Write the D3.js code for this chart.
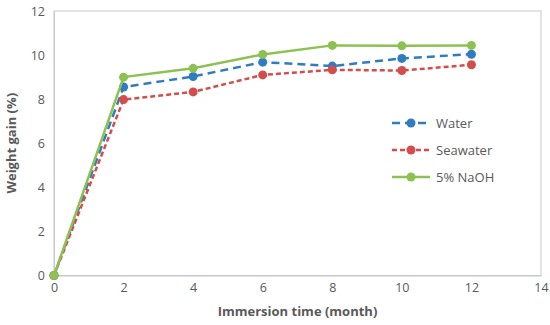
<!DOCTYPE html>
<html><head><meta charset="utf-8">
<script src="https://cdn.jsdelivr.net/npm/d3@7"></script>
<style>body{margin:0;background:#fff}svg{display:block}text{font-family:"Open Sans",Carlito,Calibri,sans-serif}</style>
</head><body><svg id="c" width="550" height="325"></svg>
<script>
const months = [0, 2, 4, 6, 8, 10, 12];
const water = [0, 8.55, 9.03, 9.68, 9.5, 9.85, 10.04];
const seawater = [0, 7.98, 8.33, 9.1, 9.33, 9.3, 9.56];
const naoh = [0, 9.0, 9.4, 10.03, 10.44, 10.42, 10.44];
const seriesNames = ["Water", "Seawater", "5% NaOH"];
const xTicks = [0, 2, 4, 6, 8, 10, 12, 14];
const yTicks = [0, 2, 4, 6, 8, 10, 12];

const series = [
  {name: seriesNames[0], values: water, color: "#2f7cc0", dash: "8,5"},
  {name: seriesNames[1], values: seawater, color: "#d24d4b", dash: "5,3"},
  {name: seriesNames[2], values: naoh, color: "#8dc152", dash: null}
];

const svg = d3.select("#c");
const L = 54, R = 541, T = 11, B = 275.5;
const x = d3.scaleLinear().domain([0, 14]).range([L, R]);
const y = d3.scaleLinear().domain([0, 12]).range([B, T]);

svg.append("rect").attr("x", L).attr("y", T).attr("width", R - L).attr("height", B - T)
  .attr("fill", "none").attr("stroke", "#c8c8c8").attr("stroke-width", 1);

const xa = svg.append("g").attr("transform", `translate(0,${B})`)
  .call(d3.axisBottom(x).tickValues(xTicks).tickSize(0).tickPadding(8).tickFormat(d3.format("d")));
const ya = svg.append("g").attr("transform", `translate(${L},0)`)
  .call(d3.axisLeft(y).tickValues(yTicks).tickSize(0).tickPadding(9).tickFormat(d3.format("d")));
[xa, ya].forEach(a => {
  a.select(".domain").attr("stroke", "#c8c8c8");
  a.selectAll("text").attr("fill", "#595959").style("font-size", "12.5px");
});

svg.append("text").attr("x", (L + R) / 2).attr("y", 316).attr("text-anchor", "middle")
  .attr("fill", "#595959").style("font-size", "13px").style("font-weight", "bold")
  .text("Immersion time (month)");
svg.append("text").attr("transform", `translate(16,${(T + B) / 2}) rotate(-90)`).attr("text-anchor", "middle")
  .attr("fill", "#595959").style("font-size", "13px").style("font-weight", "bold")
  .text("Weight gain (%)");

const line = d3.line().x((d, i) => x(months[i])).y(d => y(d));
series.forEach(s => {
  const g = svg.append("g");
  g.append("path").datum(s.values).attr("d", line).attr("fill", "none")
    .attr("stroke", s.color).attr("stroke-width", 2.5)
    .attr("stroke-dasharray", s.dash);
  g.selectAll("circle").data(s.values).join("circle")
    .attr("cx", (d, i) => x(months[i])).attr("cy", d => y(d)).attr("r", 4.5).attr("fill", s.color);
});

const legY = [123, 150, 177];
series.forEach((s, i) => {
  const g = svg.append("g").attr("transform", `translate(0,${legY[i]})`);
  g.append("line").attr("x1", 392).attr("x2", 430).attr("y1", 0).attr("y2", 0)
    .attr("stroke", s.color).attr("stroke-width", 2.5).attr("stroke-dasharray", s.dash);
  g.append("circle").attr("cx", 411).attr("cy", 0).attr("r", 4.5).attr("fill", s.color);
  g.append("text").attr("x", 436).attr("y", 0).attr("dy", "0.35em")
    .attr("fill", "#595959").style("font-size", "13px").text(s.name);
});
</script></body></html>
